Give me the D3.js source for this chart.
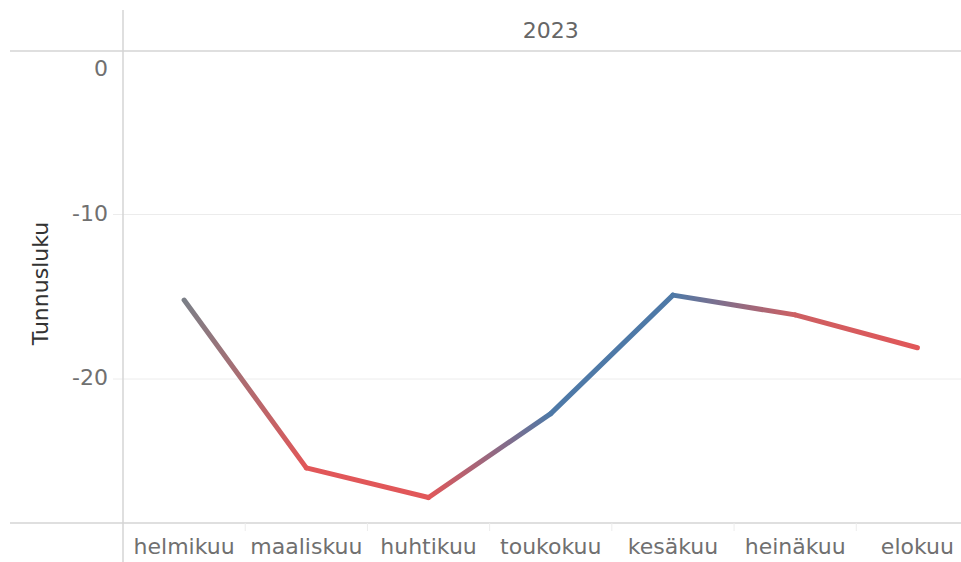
<!DOCTYPE html>
<html>
<head>
<meta charset="utf-8">
<script src="https://cdn.jsdelivr.net/npm/d3@7"></script>
<style>
  html, body { margin: 0; padding: 0; background: #fff; }
  svg { display: block; font-family: "DejaVu Sans", Verdana, sans-serif; }
</style>
</head>
<body>
<div id="chart"></div>
<script>
const year = "2023";
const months = ["helmikuu", "maaliskuu", "huhtikuu", "toukokuu", "kesäkuu", "heinäkuu", "elokuu"];
const values = [-15.2, -25.4, -27.2, -22.1, -14.9, -16.1, -18.1];
// colour measure (change from previous month)
const changes = [0, -10.2, -1.8, 5.1, 7.1, -1.2, -1.9];
const yTicks = [0, -10, -20];
const yTitle = "Tunnusluku";

const w = 961;
const h = 562;
const plotLeft = 123;
const plotTop = 50;
const plotBottom = 523;
const plotRight = 978.5;

const svg = d3.select("#chart")
  .append("svg")
  .attr("width", w)
  .attr("height", h);

const x = d3.scaleBand().domain(months).range([plotLeft, plotRight]).padding(0);
const y = d3.scaleLinear().domain([-28.75, 0]).range([plotBottom, plotTop]);

const color = d3.scaleLinear()
  .domain([-1.5, 0, 1.5])
  .range(["#e15759", "#7b7f87", "#4e79a7"])
  .clamp(true);

// gridlines
svg.append("g")
  .selectAll("line")
  .data(yTicks.filter((t) => t !== 0))
  .enter()
  .append("line")
  .attr("x1", plotLeft - 10)
  .attr("x2", w)
  .attr("y1", (d) => y(d))
  .attr("y2", (d) => y(d))
  .attr("stroke", "#ececec")
  .attr("stroke-width", 1);

// frame lines
svg.append("line")
  .attr("x1", plotLeft).attr("x2", plotLeft)
  .attr("y1", 10).attr("y2", h)
  .attr("stroke", "#d4d4d4").attr("stroke-width", 1.5);

svg.append("line")
  .attr("x1", 10).attr("x2", w)
  .attr("y1", plotTop + 1).attr("y2", plotTop + 1)
  .attr("stroke", "#d4d4d4").attr("stroke-width", 1.5);

svg.append("line")
  .attr("x1", 10).attr("x2", w)
  .attr("y1", plotBottom).attr("y2", plotBottom)
  .attr("stroke", "#d4d4d4").attr("stroke-width", 1.5);

// band separators on x axis
svg.append("g")
  .selectAll("line")
  .data(months.slice(1))
  .enter()
  .append("line")
  .attr("x1", (d) => x(d))
  .attr("x2", (d) => x(d))
  .attr("y1", plotBottom)
  .attr("y2", plotBottom + 8)
  .attr("stroke", "#ececec")
  .attr("stroke-width", 1);

// header
svg.append("text")
  .attr("x", (plotLeft + plotRight) / 2)
  .attr("y", 32)
  .attr("text-anchor", "middle")
  .attr("dominant-baseline", "middle")
  .style("font-size", "22px")
  .style("fill", "#666")
  .text(year);

// y tick labels (0 is nudged down like the original)
svg.append("g")
  .selectAll("text")
  .data(yTicks)
  .enter()
  .append("text")
  .attr("x", 108)
  .attr("y", (d) => (d === 0 ? y(d) + 20 : y(d)))
  .attr("text-anchor", "end")
  .attr("dominant-baseline", "middle")
  .style("font-size", "22px")
  .style("fill", "#707070")
  .text((d) => (d === 0 ? "0" : "-" + Math.abs(d)));

// y title
svg.append("text")
  .attr("transform", `translate(42,${(plotTop + plotBottom) / 2 - 3}) rotate(-90)`)
  .attr("text-anchor", "middle")
  .attr("dominant-baseline", "middle")
  .style("font-size", "22px")
  .style("fill", "#333")
  .text(yTitle);

// x labels
svg.append("g")
  .selectAll("text")
  .data(months)
  .enter()
  .append("text")
  .attr("x", (d) => x(d) + x.bandwidth() / 2)
  .attr("y", 548)
  .attr("text-anchor", "middle")
  .attr("dominant-baseline", "middle")
  .style("font-size", "22px")
  .style("fill", "#707070")
  .text((d) => d);

// line segments with gradient between point colours
const pts = months.map((m, i) => ({
  x: x(m) + x.bandwidth() / 2,
  y: y(values[i]),
  c: color(changes[i]),
}));

const segs = d3.pairs(pts);
const defs = svg.append("defs");

segs.forEach(([a, b], i) => {
  const g = defs.append("linearGradient")
    .attr("id", "seg" + i)
    .attr("gradientUnits", "userSpaceOnUse")
    .attr("x1", a.x).attr("y1", a.y)
    .attr("x2", b.x).attr("y2", b.y);
  g.append("stop").attr("offset", "0%").attr("stop-color", a.c);
  g.append("stop").attr("offset", "100%").attr("stop-color", b.c);
});

const line = d3.line().x((d) => d.x).y((d) => d.y);

svg.append("g")
  .selectAll("path")
  .data(segs)
  .enter()
  .append("path")
  .attr("d", (d) => line(d))
  .attr("fill", "none")
  .attr("stroke", (d, i) => `url(#seg${i})`)
  .attr("stroke-width", 5)
  .attr("stroke-linecap", "round")
  .attr("stroke-linejoin", "round");
</script>
</body>
</html>
